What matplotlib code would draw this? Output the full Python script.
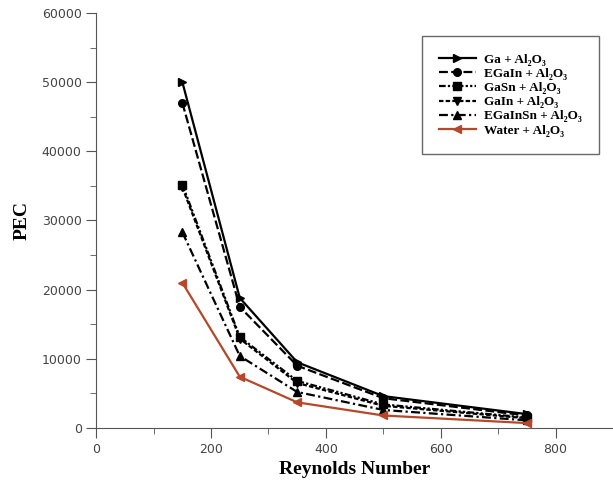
import matplotlib
matplotlib.use("Agg")
import matplotlib.pyplot as plt
from matplotlib.ticker import MultipleLocator

re_vals = [150, 250, 350, 500, 750]
labels = ["Ga + Al₂O₃", "EGaIn + Al₂O₃", "GaSn + Al₂O₃",
          "GaIn + Al₂O₃", "EGaInSn + Al₂O₃", "Water + Al₂O₃"]
pec_ga = [50000, 18800, 9500, 4600, 2000]
pec_egain = [47000, 17500, 9000, 4300, 1800]
pec_gasn = [35200, 13150, 6800, 3400, 1500]
pec_gain = [34800, 12900, 6500, 3200, 1400]
pec_egainsn = [28300, 10400, 5200, 2600, 1100]
pec_water = [21000, 7400, 3700, 1800, 700]

series = [pec_ga, pec_egain, pec_gasn, pec_gain, pec_egainsn, pec_water]
markers = [">", "o", "s", "v", "^", "<"]
styles = ["-", (0, (4, 1.5)), (0, (3, 1, 1, 1, 1, 1)), (0, (2, 1)), (0, (4, 1.5, 1, 1.5)), "-"]
colors = ["k", "k", "k", "k", "k", "#b5482b"]

serif = ["Liberation Serif", "DejaVu Serif"]

fig = plt.figure(figsize=(6.13, 4.83), dpi=100)
ax = fig.add_axes([0.157, 0.114, 0.843, 0.859])

for ys, lab, m, ls, c in zip(series, labels, markers, styles, colors):
    ax.plot(re_vals, ys, color=c, linestyle=ls, marker=m, markersize=5.5,
            linewidth=1.6, label=lab)

ax.set_xlim(0, 900)
ax.set_ylim(0, 60000)
ax.xaxis.set_major_locator(MultipleLocator(200))
ax.xaxis.set_minor_locator(MultipleLocator(100))
ax.yaxis.set_major_locator(MultipleLocator(10000))
ax.yaxis.set_minor_locator(MultipleLocator(5000))
ax.spines["top"].set_visible(False)
ax.spines["right"].set_visible(False)
for s in ("left", "bottom"):
    ax.spines[s].set_color("#555555")
ax.tick_params(which="major", length=7, color="#555555", labelsize=9, labelcolor="#444444")
ax.tick_params(which="minor", length=4, color="#555555")

ax.set_xlabel("Reynolds Number", family=serif, fontweight="bold", fontsize=14)
ax.set_ylabel("PEC", family=serif, fontweight="bold", fontsize=14, labelpad=8)

leg = ax.legend(loc="upper right", bbox_to_anchor=(0.985, 0.96),
                prop={"family": serif, "weight": "bold", "size": 9.5},
                fancybox=False, edgecolor="#444444", handlelength=2.8,
                borderpad=1.3, labelspacing=0.15, handletextpad=0.6)
leg.get_frame().set_linewidth(1.0)

fig.savefig("out.png", dpi=100)
